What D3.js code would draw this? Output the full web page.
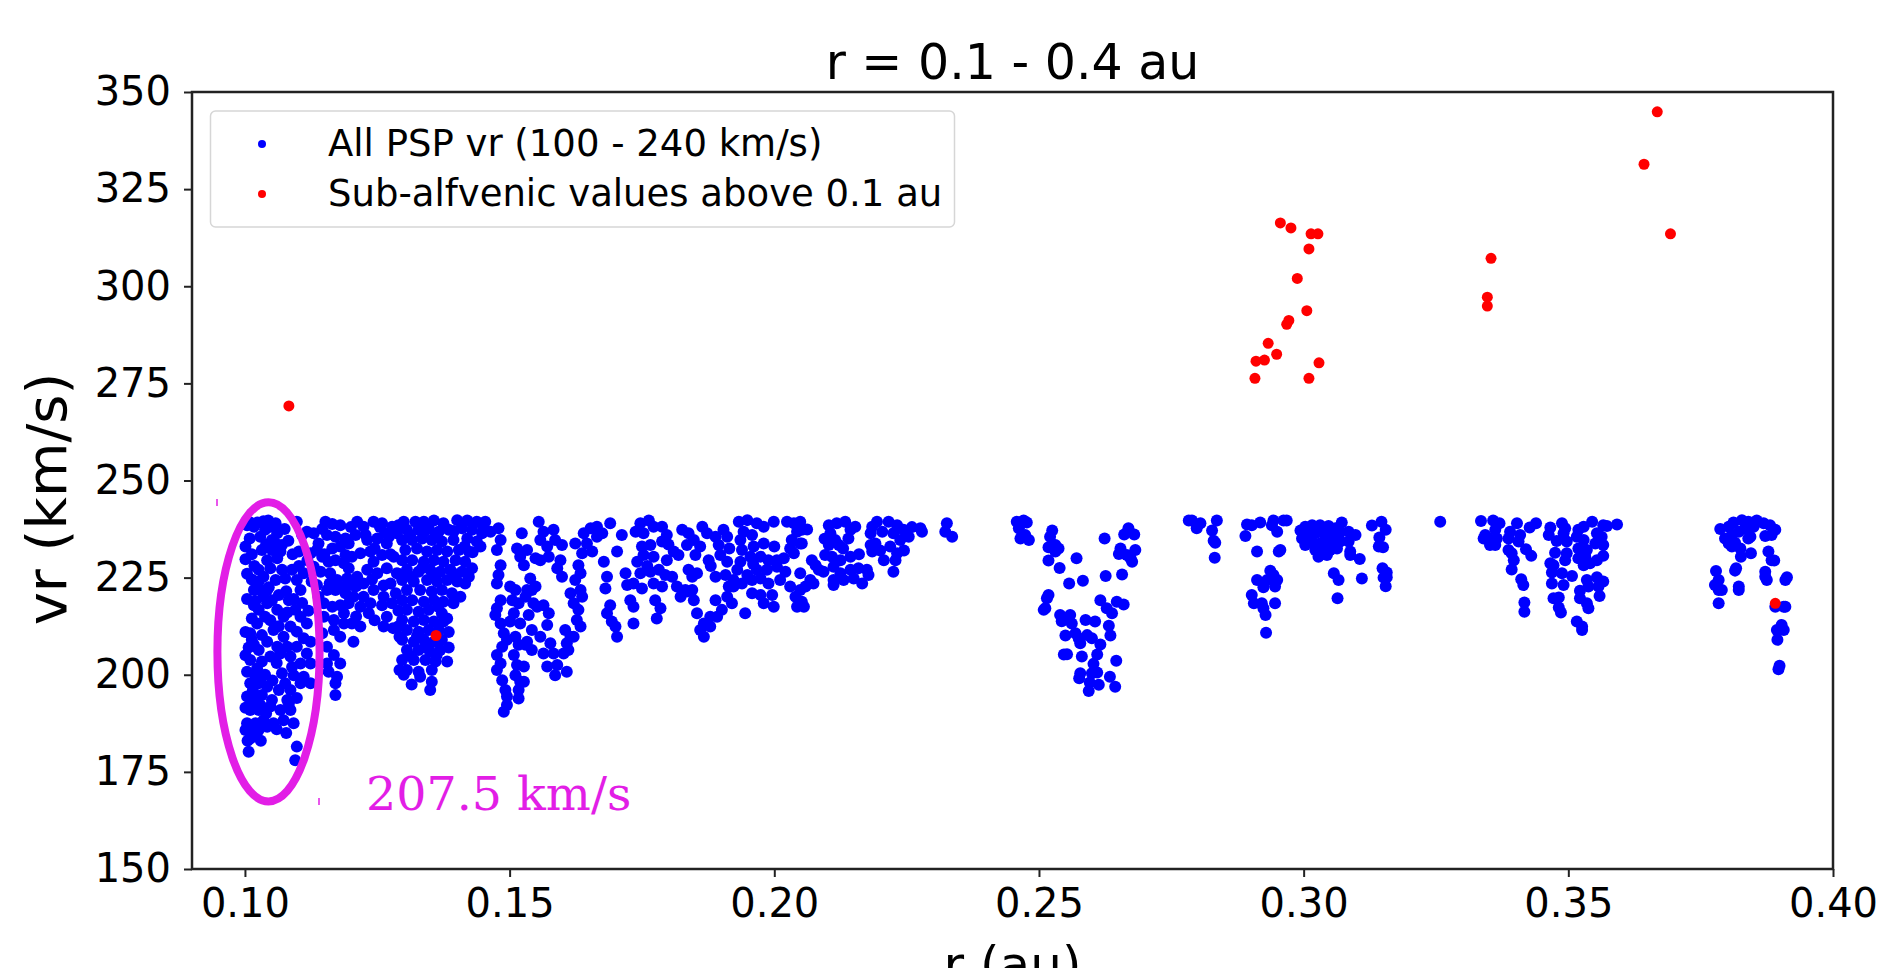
<!DOCTYPE html>
<html>
<head>
<meta charset="utf-8">
<script src="https://cdn.jsdelivr.net/npm/d3@7"></script>
<style>
  html, body { margin: 0; padding: 0; background: #ffffff; }
  svg { display: block; }
  text { font-family: "DejaVu Sans", sans-serif; }
</style>
</head>
<body>
<svg id="chart" width="1884" height="968"></svg>
<script>
// ---- data: radial distance r (au) and radial speed vr (km/s) ----

// PSP samples between 0.10 and 0.13 au
const pspNear = [
  [0.1010,239.2],[0.1024,239.2],[0.1044,239.7],[0.1048,238.1],[0.1061,236.4],[0.1009,235.1],[0.1029,235.5],[0.1051,234.7],
  [0.1070,233.4],[0.1032,232.1],[0.1051,232.1],[0.1067,231.7],[0.1001,229.7],[0.1018,228.0],[0.1042,229.5],[0.1061,230.0],
  [0.1070,227.0],[0.1048,227.4],[0.1035,225.2],[0.1026,224.0],[0.1042,221.8],[0.1029,221.8],[0.1017,217.9],[0.1042,218.4],
  [0.1051,219.2],[0.1013,214.5],[0.1023,213.2],[0.1010,210.7],[0.1032,210.2],[0.1042,208.5],[0.1017,207.7],[0.1026,206.4],
  [0.1010,203.8],[0.1032,203.4],[0.1023,201.6],[0.1004,200.8],[0.1020,199.5],[0.1026,197.8],[0.1004,194.4],[0.1020,194.4],
  [0.1032,194.8],[0.1010,190.9],[0.1026,190.9],[0.1035,188.3],[0.1004,187.5],[0.1020,187.5],[0.1001,185.8],[0.1010,183.6],
  [0.1026,185.8],[0.1007,180.2],[0.1051,193.5],[0.1064,196.1],[0.1048,191.8],[0.1054,187.5],[0.1067,190.9],[0.1083,192.6],
  [0.1092,187.5],[0.1042,186.6],[0.1098,181.5],[0.1095,178.0],[0.1076,224.8],[0.1089,227.0],[0.1098,224.4],[0.1111,226.1],
  [0.1105,221.8],[0.1083,219.2],[0.1095,216.7],[0.1073,214.9],[0.1105,214.9],[0.1117,213.2],[0.1086,212.4],[0.1098,211.1],
  [0.1073,209.8],[0.1111,209.4],[0.1124,208.5],[0.1080,207.2],[0.1098,207.2],[0.1117,205.5],[0.1067,205.5],[0.1086,204.7],
  [0.1105,202.9],[0.1124,202.9],[0.1070,200.4],[0.1092,199.9],[0.1111,199.5],[0.1076,197.8],[0.1105,197.8],[0.1124,197.8],
  [0.1086,196.1],[0.1080,193.5],[0.1017,238.1],[0.1038,237.3],[0.1058,233.8],[0.1026,227.0],[0.1058,224.4],[0.1017,221.8],
  [0.1035,220.1],[0.1026,216.7],[0.1038,214.9],[0.1061,216.7],[0.1013,209.0],[0.1054,211.5],[0.1061,207.2],[0.1048,204.7],
  [0.1010,197.8],[0.1042,196.9],[0.1013,192.6],[0.1029,192.2],[0.1073,188.3],[0.1086,190.9],[0.1017,184.5],
  [0.1004,238.5],[0.1035,239.5],[0.1058,239.0],[0.1001,233.0],[0.1013,231.0],[0.1040,233.5],[0.1004,226.0],[0.1013,224.5],
  [0.1045,222.5],[0.1064,220.5],[0.1004,219.5],[0.1020,219.0],[0.1001,211.0],[0.1007,207.0],[0.1001,205.0],[0.1038,200.0],
  [0.1052,198.5],[0.1048,214.0],[0.1064,212.5],[0.1080,216.0],[0.1078,221.5],[0.1092,219.5],[0.1108,218.5],[0.1120,216.5],
  [0.1126,224.0],[0.1118,229.5],[0.1108,236.0],[0.1102,228.0],[0.1090,231.0],[0.1082,234.5],[0.1075,237.5],[0.1089,202.0],
  [0.1098,194.0],[0.1060,203.0],[0.1015,196.0],[0.1030,199.0],[0.1001,191.5],[0.1040,190.0],[0.1060,186.0],[0.1078,185.0],
  [0.1015,186.0],[0.1005,183.0],[0.1030,183.0],
  [0.1098,239.4],[0.1117,236.8],[0.1130,236.4],[0.1139,233.8],[0.1102,231.7],[0.1124,231.3],[0.1136,232.1],[0.1152,239.4],
  [0.1180,238.5],[0.1155,236.0],[0.1171,235.5],[0.1190,235.1],[0.1165,232.5],[0.1180,233.0],[0.1196,233.8],[0.1212,239.4],
  [0.1224,238.1],[0.1243,239.4],[0.1259,239.0],[0.1265,236.4],[0.1278,238.1],[0.1209,236.0],[0.1231,234.7],[0.1250,235.1],
  [0.1268,233.8],[0.1287,236.4],[0.1158,229.1],[0.1171,229.5],[0.1187,228.7],[0.1202,230.4],[0.1218,231.3],[0.1237,231.7],
  [0.1259,230.8],[0.1281,230.4],[0.1143,226.5],[0.1161,226.1],[0.1174,224.4],[0.1193,224.8],[0.1212,225.2],[0.1231,227.0],
  [0.1250,226.1],[0.1268,227.4],[0.1287,226.1],[0.1136,223.1],[0.1155,221.8],[0.1171,221.8],[0.1190,221.0],[0.1205,220.1],
  [0.1224,220.1],[0.1243,221.8],[0.1262,220.1],[0.1278,218.4],[0.1149,218.4],[0.1165,217.5],[0.1180,217.9],[0.1196,218.4],
  [0.1218,217.5],[0.1234,215.8],[0.1259,217.9],[0.1149,214.9],[0.1168,214.1],[0.1187,213.2],[0.1218,212.4],[0.1262,212.4],
  [0.1146,210.7],[0.1168,211.5],[0.1180,209.8],[0.1205,208.5],[0.1155,207.2],[0.1168,205.1],[0.1155,202.9],[0.1180,202.9],
  [0.1158,200.8],[0.1174,199.5],[0.1171,197.8],[0.1171,194.8],[0.1292,201.2],[0.1292,209.8],
  [0.1130,227.8],[0.1146,230.4],[0.1196,227.4],[0.1243,229.1],[0.1275,223.5],[0.1202,223.1],[0.1224,223.5],[0.1139,220.1],
  [0.1187,215.8],[0.1202,213.2],[0.1237,218.4],[0.1268,214.9],
  [0.1146,237.5],[0.1165,238.8],[0.1200,238.0],[0.1228,236.0],[0.1255,238.0],[0.1272,235.5],[0.1290,238.5],[0.1160,223.5],
  [0.1183,222.5],[0.1210,222.8],[0.1240,224.5],[0.1262,223.0],[0.1285,221.0],[0.1150,231.0],[0.1190,230.8],[0.1245,232.5],
  [0.1275,231.0],[0.1210,215.0],[0.1245,214.0],[0.1280,212.0],[0.1290,216.5]
];

// PSP samples between 0.13 and 0.167 au
const pspInner = [
  [0.1300,239.4],[0.1322,239.4],[0.1338,239.4],[0.1357,239.7],[0.1375,239.0],[0.1401,239.8],[0.1420,239.7],[0.1438,239.4],
  [0.1454,239.4],[0.1306,237.3],[0.1328,237.3],[0.1347,237.7],[0.1366,236.8],[0.1385,237.3],[0.1410,237.7],[0.1429,237.3],
  [0.1448,236.4],[0.1297,234.7],[0.1316,234.7],[0.1335,235.1],[0.1353,234.7],[0.1372,234.3],[0.1394,234.7],[0.1420,235.1],
  [0.1438,234.3],[0.1303,232.1],[0.1325,232.5],[0.1344,231.7],[0.1363,232.1],[0.1382,231.7],[0.1404,232.1],[0.1423,231.7],
  [0.1297,229.5],[0.1316,229.5],[0.1338,229.1],[0.1357,229.5],[0.1375,229.1],[0.1398,229.5],[0.1416,229.1],[0.1429,227.4],
  [0.1306,227.0],[0.1328,226.5],[0.1350,227.0],[0.1369,226.5],[0.1388,227.0],[0.1410,226.5],[0.1423,225.2],[0.1297,224.4],
  [0.1319,224.0],[0.1344,224.4],[0.1363,224.0],[0.1382,224.4],[0.1401,224.0],[0.1416,223.5],[0.1306,221.8],[0.1331,221.8],
  [0.1353,221.4],[0.1372,221.8],[0.1391,221.0],[0.1407,220.1],[0.1297,219.2],[0.1316,219.2],[0.1338,218.8],[0.1357,219.2],
  [0.1375,218.8],[0.1394,218.4],[0.1306,216.7],[0.1328,216.2],[0.1347,216.7],[0.1372,215.8],[0.1382,214.5],[0.1297,214.1],
  [0.1319,213.7],[0.1338,214.1],[0.1357,213.7],[0.1375,213.7],[0.1306,211.5],[0.1328,211.1],[0.1347,211.5],[0.1366,211.5],
  [0.1297,209.0],[0.1319,208.5],[0.1338,209.0],[0.1357,208.5],[0.1372,209.0],[0.1306,206.4],[0.1328,206.4],[0.1350,205.9],
  [0.1369,206.4],[0.1297,203.8],[0.1319,203.8],[0.1341,203.8],[0.1360,203.4],[0.1382,203.4],[0.1306,201.2],[0.1328,200.8],
  [0.1353,201.2],[0.1331,199.5],[0.1353,198.2],[0.1350,196.1],
  [0.1290,238.0],[0.1312,236.0],[0.1340,237.0],[0.1360,236.0],[0.1395,237.0],[0.1415,233.0],[0.1430,231.5],[0.1445,233.0],
  [0.1450,238.0],[0.1310,225.5],[0.1335,227.5],[0.1360,225.5],[0.1395,226.0],[0.1290,226.0],[0.1290,212.5],[0.1310,205.0],
  [0.1340,207.0],[0.1362,205.0],[0.1300,200.0],[0.1315,197.5],[0.1325,210.0],[0.1365,217.5],[0.1385,211.0],[0.1395,220.0],
  [0.1385,207.0],
  [0.1464,236.8],[0.1479,237.7],[0.1483,234.7],[0.1476,232.1],[0.1483,228.2],[0.1479,225.7],[0.1476,223.5],[0.1483,219.2],
  [0.1476,217.1],[0.1473,215.4],[0.1483,213.2],[0.1489,210.7],[0.1495,209.0],[0.1486,207.2],[0.1476,205.1],[0.1483,202.9],
  [0.1476,201.2],[0.1486,198.6],[0.1492,196.1],[0.1495,194.4],[0.1495,192.2],[0.1489,190.5],[0.1501,222.7],[0.1511,221.8],
  [0.1505,219.2],[0.1517,218.4],[0.1508,215.8],[0.1501,213.7],[0.1520,213.2],[0.1511,209.8],[0.1517,207.7],[0.1508,205.1],
  [0.1514,202.5],[0.1527,202.1],[0.1511,199.9],[0.1520,198.2],[0.1527,198.2],[0.1517,196.1],[0.1517,193.9],[0.1514,232.5],
  [0.1520,230.4],[0.1523,236.4],[0.1533,232.1],[0.1527,228.2],[0.1539,224.8],[0.1533,221.8],[0.1530,220.1],[0.1542,221.8],
  [0.1549,222.7],[0.1545,218.4],[0.1552,217.5],[0.1536,215.4],[0.1542,211.5],[0.1533,208.5],[0.1542,206.4],[0.1530,207.7],
  [0.1555,239.4],[0.1564,236.8],[0.1558,234.7],[0.1549,230.0],[0.1558,229.5],[0.1574,230.4],[0.1571,233.0],[0.1583,237.3],
  [0.1586,234.7],[0.1599,233.4],[0.1596,229.5],[0.1590,227.4],[0.1599,225.2],[0.1564,217.9],[0.1574,215.8],[0.1571,212.8],
  [0.1558,209.8],[0.1577,208.1],[0.1564,205.5],[0.1583,205.5],[0.1571,202.1],[0.1590,202.5],[0.1586,199.9],[0.1608,200.8],
  [0.1602,205.5],[0.1608,208.1],[0.1615,209.8],[0.1605,211.5],[0.1615,221.0],[0.1621,218.4],[0.1630,216.7],[0.1627,214.1],
  [0.1634,212.4],[0.1621,209.8],[0.1611,206.4],[0.1624,233.8],[0.1640,236.4],[0.1653,237.7],[0.1646,233.8],[0.1637,231.3],
  [0.1656,231.7],[0.1665,238.1],[0.1665,235.5],[0.1630,228.2],[0.1634,226.1],[0.1624,224.4],[0.1634,221.8],[0.1637,220.1]
];

// PSP samples between 0.167 and 0.24 au
const pspMiddle = [
  [0.1675,236.4],[0.1690,239.0],[0.1712,236.0],[0.1703,231.7],[0.1678,229.1],[0.1684,225.2],[0.1681,222.2],[0.1690,217.9],
  [0.1684,215.8],[0.1693,213.7],[0.1700,212.4],[0.1703,209.8],[0.1719,226.1],[0.1722,223.1],[0.1728,219.2],[0.1734,217.5],
  [0.1734,213.2],[0.1738,236.8],[0.1747,239.0],[0.1763,239.7],[0.1753,236.4],[0.1772,238.1],[0.1788,238.1],[0.1797,236.0],
  [0.1750,233.0],[0.1766,233.4],[0.1788,234.3],[0.1741,229.1],[0.1753,230.8],[0.1772,230.4],[0.1797,229.5],[0.1810,231.7],
  [0.1819,230.8],[0.1747,226.1],[0.1766,226.5],[0.1782,227.0],[0.1794,225.7],[0.1807,225.2],[0.1734,223.5],[0.1750,222.2],
  [0.1772,223.5],[0.1788,222.7],[0.1816,222.7],[0.1832,221.8],[0.1845,221.8],[0.1775,219.2],[0.1785,217.1],[0.1778,214.5],
  [0.1823,220.1],[0.1835,221.4],[0.1848,219.2],[0.1826,237.3],[0.1838,236.4],[0.1848,234.7],[0.1864,238.1],[0.1873,236.4],
  [0.1860,233.0],[0.1851,230.8],[0.1876,229.5],[0.1835,233.4],[0.1845,225.2],[0.1838,227.0],[0.1854,226.1],[0.1889,235.5],
  [0.1904,237.3],[0.1911,235.5],[0.1895,233.4],[0.1898,230.8],[0.1911,229.1],[0.1889,225.2],[0.1908,225.7],[0.1914,222.7],
  [0.1923,224.4],[0.1889,219.2],[0.1911,220.1],[0.1920,218.4],[0.1901,216.7],[0.1892,214.9],[0.1879,214.9],[0.1867,213.2],
  [0.1860,211.5],[0.1867,209.8],[0.1854,215.8],[0.1879,212.4],[0.1945,215.8],[0.1933,239.4],[0.1949,239.8],[0.1967,239.0],
  [0.1942,236.8],[0.1936,234.7],[0.1958,236.0],[0.1980,238.1],[0.1999,239.4],[0.1939,232.1],[0.1961,233.0],[0.1980,233.8],
  [0.1936,229.1],[0.1955,230.4],[0.1974,230.4],[0.1989,229.5],[0.2005,229.5],[0.2018,230.0],[0.1930,227.0],[0.1949,225.7],
  [0.1967,227.0],[0.1986,227.0],[0.2005,227.8],[0.2021,226.5],[0.1923,222.7],[0.1939,223.5],[0.1958,224.4],[0.1974,224.8],
  [0.1989,223.5],[0.2011,224.4],[0.1958,221.0],[0.1974,220.5],[0.1980,218.4],[0.1996,220.5],[0.1999,217.5],[0.2024,239.4],
  [0.2037,239.0],[0.2033,234.7],[0.2043,236.8],[0.2030,232.5],[0.2037,231.3],[0.2030,222.7],[0.2040,220.1],[0.2043,217.5],
  [0.2049,221.8],[0.2049,226.1],[0.2049,233.8],
  [0.1760,228.0],[0.1800,233.5],[0.1960,228.5],[0.2000,233.0],[0.1880,228.0],[0.1915,232.5],
  [0.2049,239.4],[0.2052,237.3],[0.2062,237.4],[0.2052,233.8],[0.2071,229.5],[0.2078,228.2],[0.2084,227.0],[0.2093,226.5],
  [0.2068,224.4],[0.2059,222.7],[0.2074,223.5],[0.2052,218.8],[0.2056,217.5],[0.2103,238.5],[0.2118,239.0],[0.2134,239.4],
  [0.2106,236.4],[0.2115,234.7],[0.2122,233.4],[0.2103,233.4],[0.2144,237.3],[0.2153,238.1],[0.2140,235.1],[0.2096,230.8],
  [0.2109,230.4],[0.2125,229.5],[0.2144,230.4],[0.2112,227.8],[0.2125,226.1],[0.2144,227.0],[0.2159,227.4],[0.2175,227.0],
  [0.2112,224.4],[0.2131,224.4],[0.2150,224.8],[0.2166,223.5],[0.2178,225.7],[0.2112,223.1],[0.2185,238.1],[0.2194,239.4],
  [0.2182,236.4],[0.2204,236.8],[0.2216,239.4],[0.2232,238.5],[0.2225,236.4],[0.2244,237.3],[0.2254,235.5],[0.2238,234.7],
  [0.2182,233.4],[0.2191,233.8],[0.2185,231.7],[0.2219,233.0],[0.2232,231.3],[0.2229,229.5],[0.2207,229.5],[0.2225,226.5],
  [0.2095,235.0],[0.2130,232.5],[0.2160,231.0],[0.2200,232.0],[0.2245,232.0],[0.2260,238.0],
  [0.2276,237.7],[0.2279,236.8],[0.2326,239.0],[0.2323,236.8],[0.2336,235.5]
];

// PSP samples between 0.24 and 0.32 au
const pspOuter = [
  [0.2458,239.4],[0.2471,239.7],[0.2477,239.2],[0.2462,237.7],[0.2468,235.5],[0.2474,236.0],[0.2481,234.7],[0.2465,235.1],
  [0.2525,237.1],[0.2521,235.5],[0.2518,232.8],[0.2531,233.4],[0.2537,232.5],[0.2531,231.7],[0.2518,229.4],[0.2539,227.5],
  [0.2571,230.0],[0.2557,223.5],[0.2583,224.2],[0.2624,235.1],[0.2626,225.4],[0.2657,225.8],[0.2515,219.7],[0.2518,220.5],
  [0.2509,216.7],[0.2512,217.1],[0.2540,215.4],[0.2543,213.8],[0.2559,215.4],[0.2562,213.2],[0.2550,210.1],[0.2569,210.7],
  [0.2575,209.4],[0.2578,208.1],[0.2588,214.1],[0.2606,213.7],[0.2591,210.2],[0.2600,209.4],[0.2616,207.8],[0.2547,205.2],
  [0.2553,205.3],[0.2581,204.7],[0.2610,205.2],[0.2632,212.6],[0.2635,210.1],[0.2646,203.6],[0.2603,202.8],[0.2578,200.4],
  [0.2576,199.1],[0.2600,200.4],[0.2610,200.6],[0.2596,198.0],[0.2613,197.4],[0.2594,195.8],[0.2634,199.5],[0.2644,196.9],
  [0.2616,219.2],[0.2628,217.1],[0.2638,215.8],[0.2647,218.8],[0.2660,218.1],[0.2654,232.5],[0.2651,231.1],[0.2669,237.7],
  [0.2661,236.1],[0.2680,236.1],[0.2682,232.1],[0.2673,230.0],[0.2666,230.8],[0.2676,229.1],
  [0.2783,239.7],[0.2789,239.7],[0.2805,239.0],[0.2798,237.7],[0.2836,239.7],[0.2827,237.1],[0.2830,234.5],[0.2833,234.0],
  [0.2832,230.1],[0.2893,238.7],[0.2902,238.5],[0.2918,239.2],[0.2890,235.7],[0.2943,239.7],[0.2940,238.5],[0.2962,239.7],
  [0.2968,239.7],[0.2950,236.8],[0.2912,231.7],[0.2953,231.7],[0.2956,232.1],[0.2937,226.8],[0.2943,225.7],[0.2912,224.4],
  [0.2931,224.4],[0.2950,224.4],[0.2924,222.5],[0.2946,222.7],[0.2902,220.5],[0.2906,218.4],[0.2921,218.4],[0.2924,217.1],
  [0.2928,215.4],[0.2946,218.4],[0.2929,210.8],
  [0.2994,237.1],[0.3003,238.1],[0.3016,238.5],[0.3031,238.5],[0.3047,238.3],[0.3060,237.7],[0.3069,236.8],[0.2997,235.1],
  [0.3009,236.0],[0.3022,236.4],[0.3038,236.4],[0.3053,236.4],[0.3066,235.5],[0.3003,233.4],[0.3019,233.8],[0.3031,233.8],
  [0.3047,234.3],[0.3060,233.8],[0.3069,234.3],[0.3022,232.1],[0.3035,231.7],[0.3050,232.1],[0.3063,232.5],[0.3028,230.4],
  [0.3044,230.8],[0.3012,234.7],[0.3041,235.1],[0.3057,235.1],[0.3025,237.7],[0.3038,233.0],
  [0.3072,239.2],[0.3085,236.8],[0.3098,236.0],[0.3085,234.3],[0.3088,231.7],[0.3088,230.8],[0.3106,229.8],[0.3057,226.1],
  [0.3066,224.4],[0.3064,219.7],[0.3110,224.8],[0.3129,238.4],[0.3147,239.4],[0.3155,237.3],[0.3143,235.3],[0.3142,233.0],
  [0.3150,232.8],[0.3149,227.4],[0.3157,226.3],[0.3157,225.1],[0.3151,225.0],[0.3155,222.8]
];

// PSP samples beyond 0.32 au
const pspFar = [
  [0.3258,239.4],
  [0.3335,239.6],[0.3358,239.7],[0.3370,239.0],[0.3362,237.3],[0.3343,236.0],[0.3349,235.1],[0.3356,234.3],[0.3340,235.1],
  [0.3362,233.4],[0.3352,233.4],[0.3365,235.1],[0.3387,235.1],[0.3390,236.8],[0.3403,239.0],[0.3409,236.0],[0.3406,234.3],
  [0.3387,232.1],[0.3393,231.3],[0.3397,229.5],[0.3393,227.1],[0.3420,232.3],[0.3430,230.6],[0.3427,237.9],[0.3439,239.0],
  [0.3411,224.6],[0.3415,223.1],[0.3417,218.6],[0.3417,216.2],
  [0.3466,237.9],[0.3463,236.0],[0.3488,239.0],[0.3494,237.7],[0.3491,236.4],[0.3478,234.4],[0.3497,234.3],[0.3475,231.4],
  [0.3497,231.3],[0.3494,229.5],[0.3466,228.7],[0.3472,228.2],[0.3469,226.3],[0.3488,226.1],[0.3507,225.4],[0.3469,223.5],
  [0.3491,223.1],[0.3472,219.7],[0.3482,219.9],[0.3482,217.3],[0.3486,216.0],
  [0.3519,237.3],[0.3529,238.1],[0.3545,239.4],[0.3566,238.5],[0.3573,238.3],[0.3592,238.7],[0.3516,235.5],[0.3529,234.7],
  [0.3554,236.4],[0.3563,235.5],[0.3519,232.5],[0.3535,232.1],[0.3551,233.8],[0.3566,233.4],[0.3519,230.0],[0.3532,230.4],
  [0.3554,229.5],[0.3566,230.6],[0.3529,228.2],[0.3541,228.7],[0.3535,224.4],[0.3554,225.1],[0.3566,224.0],[0.3557,222.7],
  [0.3538,222.7],[0.3522,221.6],[0.3522,219.7],[0.3535,218.4],[0.3538,217.1],[0.3559,220.3],[0.3516,213.7],[0.3526,211.5],
  [0.3526,212.4],
  [0.3787,237.5],[0.3803,238.1],[0.3812,239.2],[0.3828,239.8],[0.3840,239.4],[0.3856,239.7],[0.3869,239.0],[0.3881,238.5],
  [0.3891,237.3],[0.3796,235.1],[0.3809,236.0],[0.3822,236.8],[0.3834,237.7],[0.3850,238.1],[0.3884,236.0],[0.3872,235.7],
  [0.3803,233.8],[0.3815,234.0],[0.3825,232.5],[0.3840,235.1],[0.3844,235.5],[0.3809,233.0],[0.3826,230.4],[0.3845,231.3],
  [0.3878,231.7],[0.3884,229.5],[0.3889,229.4],[0.3779,226.7],[0.3784,224.4],[0.3777,223.1],[0.3790,221.8],[0.3784,221.8],
  [0.3784,218.4],[0.3817,227.4],[0.3815,226.8],[0.3822,222.7],[0.3822,221.8],[0.3872,226.5],[0.3875,224.4],[0.3872,225.2],
  [0.3913,225.1],[0.3910,224.4],[0.3891,217.5],[0.3907,217.5],[0.3910,217.5],[0.3903,212.8],[0.3894,211.5],[0.3907,211.5],
  [0.3895,209.0],[0.3899,202.3],[0.3897,201.4]
];

// sub-Alfvenic intervals above 0.1 au
const subAlfvenic = [
  [0.1083,269.2],[0.1361,210.1],
  [0.2956,316.3],[0.2976,315.0],[0.3014,313.5],[0.3027,313.5],[0.3010,309.6],[0.2988,302.0],[0.3006,293.7],[0.2972,291.2],
  [0.2968,290.2],[0.2933,285.3],[0.2949,282.5],[0.2926,281.0],[0.2910,280.7],[0.2908,276.3],[0.3010,276.3],[0.3029,280.3],
  [0.3354,307.2],[0.3347,297.2],[0.3347,294.9],
  [0.3643,331.4],[0.3668,344.9],[0.3693,313.5],
  [0.3891,218.4]
];

const xTicks = [0.10, 0.15, 0.20, 0.25, 0.30, 0.35, 0.40];
const yTicks = [150, 175, 200, 225, 250, 275, 300, 325, 350];
const legendLabels = ["All PSP vr (100 - 240 km/s)", "Sub-alfvenic values above 0.1 au"];
const chartTitle = "r = 0.1 - 0.4 au";
const xLabel = "r (au)";
const yLabel = "vr (km/s)";

// interval circled near perihelion and its mean speed
const markedRange = { r: [0.0948, 0.1141], vr: [167.4, 244.4] };
const markedMean = "207.5 km/s";

// ---- layout ----
const plot = { left: 192, right: 1833, top: 92, bottom: 869 };
const MAGENTA = "#e21ee6";
const DOT_R = 6;

const svg = d3.select("#chart");
const x = d3.scaleLinear().domain([0.09, 0.40]).range([plot.left, plot.right]);
const y = d3.scaleLinear().domain([150, 350]).range([plot.bottom, plot.top]);

// axes
const xAxis = d3.axisBottom(x).tickValues(xTicks).tickFormat(d3.format(".2f")).tickSize(8).tickPadding(12);
const yAxis = d3.axisLeft(y).tickValues(yTicks).tickFormat(d3.format("d")).tickSize(8).tickPadding(13);

const gx = svg.append("g").attr("transform", `translate(0,${plot.bottom})`).call(xAxis);
const gy = svg.append("g").attr("transform", `translate(${plot.left},0)`).call(yAxis);
[gx, gy].forEach(g => {
  g.select(".domain").remove();
  g.selectAll(".tick line").attr("stroke", "#222").attr("stroke-width", 2);
  g.selectAll(".tick text").attr("fill", "#000").style("font-size", "40px").style("font-family", "DejaVu Sans");
});

// scatter points
const blue = [].concat(pspNear, pspInner, pspMiddle, pspOuter, pspFar);
svg.append("g").selectAll("circle").data(blue).join("circle")
  .attr("cx", d => x(d[0])).attr("cy", d => y(d[1])).attr("r", DOT_R)
  .attr("fill", "#0000ff");
svg.append("g").selectAll("circle").data(subAlfvenic).join("circle")
  .attr("cx", d => x(d[0])).attr("cy", d => y(d[1])).attr("r", 5.5)
  .attr("fill", "#ff0000");

// frame
svg.append("rect")
  .attr("x", plot.left).attr("y", plot.top)
  .attr("width", plot.right - plot.left).attr("height", plot.bottom - plot.top)
  .attr("fill", "none").attr("stroke", "#222").attr("stroke-width", 2.5);

// title and axis labels
svg.append("text").attr("x", (plot.left + plot.right) / 2).attr("y", 79)
  .attr("text-anchor", "middle").style("font-size", "49px").text(chartTitle);
svg.append("text").attr("x", (plot.left + plot.right) / 2).attr("y", 982)
  .attr("text-anchor", "middle").style("font-size", "50px").text(xLabel);
svg.append("text")
  .attr("transform", `translate(66,499) rotate(-90)`)
  .attr("text-anchor", "middle").style("font-size", "56px").text(yLabel);

// legend
const lg = svg.append("g");
lg.append("rect").attr("x", 210.5).attr("y", 111).attr("width", 744).attr("height", 116)
  .attr("rx", 5).attr("fill", "#fff").attr("fill-opacity", 0.8)
  .attr("stroke", "#d6d6d6").attr("stroke-width", 1.5);
const legendColors = ["#0000ff", "#ff0000"];
legendLabels.forEach((t, i) => {
  const cy = 144 + i * 50;
  lg.append("circle").attr("cx", 262).attr("cy", cy).attr("r", 4).attr("fill", legendColors[i]);
  lg.append("text").attr("x", 328).attr("y", cy + 12).style("font-size", "37px").text(t);
});

// circled interval
const ex0 = x(markedRange.r[0]), ex1 = x(markedRange.r[1]);
const ey0 = y(markedRange.vr[1]), ey1 = y(markedRange.vr[0]);
svg.append("ellipse")
  .attr("cx", (ex0 + ex1) / 2).attr("cy", (ey0 + ey1) / 2)
  .attr("rx", (ex1 - ex0) / 2).attr("ry", (ey1 - ey0) / 2)
  .attr("fill", "none").attr("stroke", MAGENTA).attr("stroke-width", 8);
svg.append("line").attr("x1", 217).attr("x2", 217).attr("y1", 499).attr("y2", 506)
  .attr("stroke", MAGENTA).attr("stroke-width", 1.5);
svg.append("line").attr("x1", 319).attr("x2", 319).attr("y1", 798).attr("y2", 805)
  .attr("stroke", MAGENTA).attr("stroke-width", 1.5);
svg.append("text").attr("x", 366).attr("y", 810)
  .style("font-family", "DejaVu Serif").style("font-size", "47.5px")
  .attr("fill", MAGENTA).text(markedMean);
</script>
</body>
</html>
